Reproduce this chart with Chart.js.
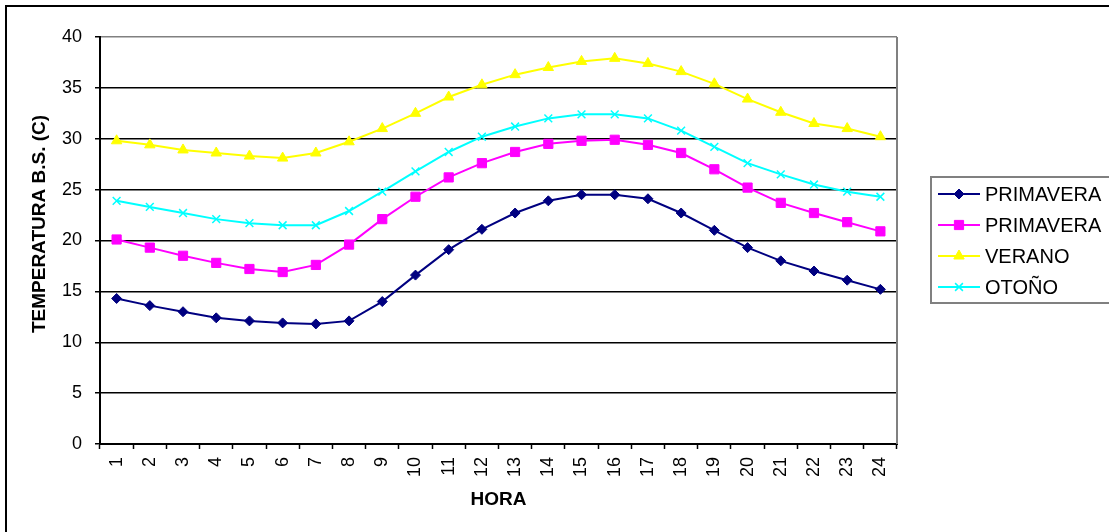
<!DOCTYPE html>
<html>
<head>
<meta charset="utf-8">
<script src="https://cdn.jsdelivr.net/npm/chart.js@4.4.1/dist/chart.umd.min.js"></script>
<style>
  html, body { margin: 0; padding: 0; background: #fff; overflow: hidden; }
  #frame { position: absolute; left: 5px; top: 5px; width: 1200px; height: 600px;
           border-left: 2px solid #000; border-top: 2px solid #000; pointer-events: none; }
  canvas { position: absolute; left: 0; top: 0; }
</style>
</head>
<body>
<canvas id="grafico" width="1109" height="532"></canvas>
<div id="frame"></div>
<script>
const horas = ['1','2','3','4','5','6','7','8','9','10','11','12','13','14','15','16','17','18','19','20','21','22','23','24'];
const primavera1 = [14.3,13.6,13.0,12.4,12.1,11.9,11.8,12.1,14.0,16.6,19.1,21.1,22.7,23.9,24.5,24.5,24.1,22.7,21.0,19.3,18.0,17.0,16.1,15.2];
const primavera2 = [20.1,19.3,18.5,17.8,17.2,16.9,17.6,19.6,22.1,24.3,26.2,27.6,28.7,29.5,29.8,29.9,29.4,28.6,27.0,25.2,23.7,22.7,21.8,20.9];
const verano = [29.8,29.4,28.9,28.6,28.3,28.1,28.6,29.7,31.0,32.5,34.1,35.3,36.3,37.0,37.6,37.9,37.4,36.6,35.4,33.9,32.6,31.5,31.0,30.2];
const otono = [23.9,23.3,22.7,22.1,21.7,21.5,21.5,22.9,24.8,26.8,28.7,30.2,31.2,32.0,32.4,32.4,32.0,30.8,29.2,27.6,26.5,25.5,24.8,24.3];
const nombres = ['PRIMAVERA', 'PRIMAVERA', 'VERANO', 'OTOÑO'];
const yTicks = [0, 5, 10, 15, 20, 25, 30, 35, 40];

const FUENTE = 'Arial, "Liberation Sans", sans-serif';

function serie(label, data, color, estilo, radio) {
    return {
        label: label,
        data: data,
        borderColor: color,
        backgroundColor: color,
        borderWidth: 2,
        pointStyle: estilo,
        pointRadius: radio,
        pointBorderWidth: estilo === 'crossRot' ? 1.5 : 1,
        pointBorderColor: color,
        pointBackgroundColor: color,
        tension: 0,
        fill: false
    };
}

// borde derecho gris, titulos de ejes y leyenda con caja
const extras = {
    id: 'extras',
    afterDraw(chart) {
        const { ctx, chartArea } = chart;
        ctx.save();
        ctx.strokeStyle = '#808080';
        ctx.lineWidth = 2;
        ctx.beginPath();
        ctx.moveTo(chartArea.right, chartArea.top);
        ctx.lineTo(chartArea.right, chartArea.bottom);
        ctx.stroke();

        ctx.fillStyle = '#000';
        ctx.font = 'bold 19px ' + FUENTE;
        ctx.textAlign = 'center';
        ctx.textBaseline = 'middle';
        ctx.fillText('HORA', (chartArea.left + chartArea.right) / 2, 500);
        ctx.translate(40, 224);
        ctx.rotate(-Math.PI / 2);
        ctx.fillText('TEMPERATURA B.S. (C)', 0, 0);
        ctx.restore();

        // leyenda
        ctx.save();
        ctx.strokeStyle = '#808080';
        ctx.lineWidth = 2;
        ctx.strokeRect(931, 177, 190, 126);
        ctx.font = '20px ' + FUENTE;
        ctx.textAlign = 'left';
        ctx.textBaseline = 'middle';
        chart.data.datasets.forEach((ds, i) => {
            const y = 194 + i * 31;
            ctx.strokeStyle = ds.borderColor;
            ctx.lineWidth = 2;
            ctx.beginPath();
            ctx.moveTo(938, y);
            ctx.lineTo(980, y);
            ctx.stroke();
            ctx.fillStyle = ds.borderColor;
            ctx.lineWidth = ds.pointBorderWidth;
            Chart.helpers.drawPoint(ctx, { pointStyle: ds.pointStyle, radius: ds.pointRadius, rotation: 0, borderWidth: ds.pointBorderWidth }, 959, y);
            ctx.fillStyle = '#000';
            ctx.fillText(ds.label, 985, y + 1);
        });
        ctx.restore();
    }
};

new Chart(document.getElementById('grafico'), {
    type: 'line',
    data: {
        labels: horas,
        datasets: [
            serie(nombres[0], primavera1, '#000080', 'rectRot', 5),
            serie(nombres[1], primavera2, '#FF00FF', 'rect', 6.5),
            serie(nombres[2], verano, '#FFFF00', 'triangle', 6),
            serie(nombres[3], otono, '#00FFFF', 'crossRot', 5.5)
        ]
    },
    options: {
        responsive: false,
        animation: false,
        layout: { padding: { top: 37, right: 212, bottom: 0, left: 0 } },
        plugins: {
            legend: { display: false },
            tooltip: { enabled: false }
        },
        scales: {
            x: {
                type: 'category',
                offset: true,
                afterFit: (s) => { s.height = 88; },
                grid: {
                    offset: true,
                    drawOnChartArea: false,
                    drawTicks: true,
                    tickLength: 5,
                    tickColor: '#000',
                    tickWidth: 1.5
                },
                border: { color: '#000', width: 2 },
                ticks: {
                    minRotation: 90,
                    maxRotation: 90,
                    padding: 8,
                    color: '#000',
                    font: { family: FUENTE, size: 18 }
                }
            },
            y: {
                min: 0,
                max: 40,
                afterFit: (s) => { s.width = 100; },
                afterBuildTicks: (s) => { s.ticks = yTicks.map(v => ({ value: v })); },
                grid: {
                    color: (c) => (c.tick && c.tick.value === 40 ? '#808080' : '#000'),
                    lineWidth: 1.5,
                    tickLength: 5,
                    tickColor: '#000',
                    tickWidth: 1.5
                },
                border: { color: '#000', width: 2 },
                ticks: {
                    padding: 13,
                    color: '#000',
                    font: { family: FUENTE, size: 18 }
                }
            }
        }
    },
    plugins: [extras]
});
</script>
</body>
</html>
